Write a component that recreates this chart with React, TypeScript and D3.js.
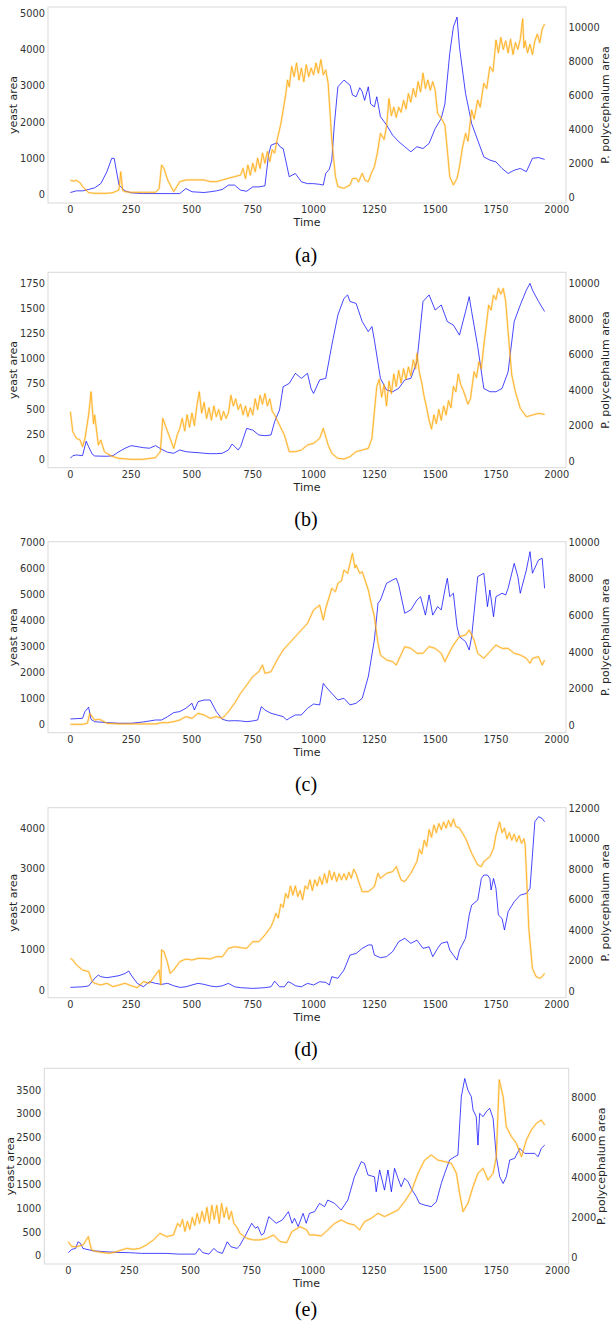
import React from 'react';
import * as d3 from 'd3';

type Pt = [number, number];

const timeTicks = [0, 250, 500, 750, 1000, 1250, 1500, 1750, 2000];

// (a)
const yeastTicksA = [0, 1000, 2000, 3000, 4000, 5000];
const physTicksA = [0, 2000, 4000, 6000, 8000, 10000];
const yeastA: Pt[] = [[0,55],[25,100],[50,100],[75,140],[100,185],[125,300],[150,625],[170,1000],[180,1000],[200,260],[225,100],[250,45],[300,25],[450,25],[475,165],[500,75],[525,65],[550,55],[575,75],[600,100],[625,140],[650,260],[675,260],[700,120],[725,90],[750,210],[775,210],[800,240],[815,1100],[825,1360],[850,1430],[865,1300],[875,1270],[900,490],[925,580],[950,350],[975,300],[1000,300],[1025,280],[1040,260],[1050,580],[1065,700],[1075,950],[1085,1900],[1100,2975],[1125,3160],[1150,3020],[1160,2750],[1175,2700],[1190,2950],[1200,2840],[1210,2600],[1225,2975],[1235,2500],[1250,2420],[1260,2700],[1275,2150],[1300,1920],[1325,1640],[1350,1460],[1375,1320],[1400,1180],[1425,1320],[1450,1270],[1475,1410],[1500,1820],[1525,2100],[1540,2500],[1560,3900],[1575,4630],[1590,4900],[1600,4070],[1625,2790],[1640,2300],[1650,1960],[1675,1500],[1700,1040],[1725,950],[1750,900],[1775,720],[1800,580],[1825,670],[1850,720],[1875,630],[1900,1000],[1925,1020],[1950,970]];
const physA: Pt[] = [[0,1000],[15,950],[25,1000],[40,850],[50,630],[75,275],[100,235],[150,235],[175,275],[200,430],[207,1500],[215,400],[225,330],[250,295],[350,295],[365,500],[375,1900],[385,1700],[400,1020],[425,330],[450,920],[475,1020],[500,1020],[525,1020],[550,1020],[575,920],[600,920],[625,1020],[650,1120],[675,1215],[700,1310],[710,1700],[720,1100],[730,1900],[740,1300],[750,2000],[760,1500],[770,2300],[780,1700],[790,2600],[800,2000],[810,2700],[820,2100],[830,2800],[840,2600],[850,3370],[865,4300],[875,5135],[885,6000],[893,6900],[900,6500],[910,7700],[920,7100],[930,7900],[940,6900],[950,7600],[960,6800],[970,7800],[980,7100],[990,7600],[1000,7200],[1010,7900],[1020,7300],[1030,8100],[1040,7200],[1050,7500],[1060,6700],[1075,3370],[1090,1215],[1100,630],[1125,530],[1150,725],[1160,1100],[1175,1120],[1185,900],[1200,1410],[1212,1000],[1225,920],[1240,1500],[1250,1800],[1262,2590],[1275,3760],[1290,3400],[1300,4150],[1310,5800],[1320,4800],[1330,5300],[1340,4700],[1350,5300],[1360,5000],[1370,5700],[1380,5200],[1390,6100],[1400,5600],[1410,6400],[1420,5900],[1430,6800],[1440,6200],[1450,7300],[1460,6400],[1470,6900],[1480,6300],[1490,6800],[1500,6300],[1510,4940],[1525,4650],[1540,4250],[1550,2780],[1560,1215],[1575,725],[1590,1120],[1600,1800],[1612,2900],[1625,3760],[1635,3300],[1650,5135],[1660,4600],[1675,5720],[1685,5300],[1700,6700],[1712,6400],[1725,7680],[1738,7400],[1750,9250],[1760,8500],[1770,9400],[1780,8700],[1790,9200],[1800,8500],[1810,9300],[1820,8400],[1830,9100],[1840,8700],[1850,9300],[1860,10500],[1865,8800],[1870,9200],[1880,8500],[1890,9000],[1900,8400],[1910,9200],[1920,9600],[1930,9100],[1940,9900],[1950,10200]];

// (b)
const yeastTicksB = [0, 250, 500, 750, 1000, 1250, 1500, 1750];
const physTicksB = [0, 2000, 4000, 6000, 8000, 10000];
const yeastB: Pt[] = [[0,10],[10,36],[25,43],[50,36],[65,180],[75,125],[90,50],[100,33],[150,30],[175,36],[200,76],[225,110],[250,136],[275,126],[300,116],[325,110],[350,136],[375,100],[400,70],[425,60],[450,93],[475,76],[500,70],[525,66],[550,60],[575,56],[600,56],[625,60],[650,93],[665,152],[690,93],[700,126],[725,308],[750,290],[775,242],[800,235],[825,242],[840,375],[860,490],[875,722],[900,755],[925,855],[950,805],[975,855],[990,700],[1000,655],[1025,790],[1050,805],[1075,1135],[1100,1435],[1125,1600],[1140,1635],[1150,1570],[1175,1550],[1200,1370],[1225,1270],[1240,1320],[1250,1186],[1275,805],[1300,690],[1325,672],[1350,705],[1375,790],[1400,805],[1425,970],[1450,1570],[1475,1635],[1500,1485],[1525,1535],[1550,1370],[1575,1335],[1600,1235],[1625,1470],[1640,1617],[1650,1470],[1675,1120],[1700,705],[1725,672],[1750,672],[1775,705],[1800,870],[1825,1370],[1850,1535],[1875,1683],[1890,1750],[1900,1683],[1925,1570],[1950,1470]];
const physB: Pt[] = [[0,2780],[10,1650],[25,1275],[40,1180],[50,807],[60,1275],[75,2590],[85,3900],[95,2100],[100,2590],[115,900],[125,1180],[140,525],[150,430],[175,245],[200,150],[250,95],[300,95],[350,190],[370,525],[380,2400],[400,1650],[425,710],[440,1500],[450,1840],[460,2400],[470,1700],[480,2600],[490,1900],[500,2700],[510,2000],[520,3100],[530,3900],[540,2700],[550,3300],[560,2400],[570,3000],[580,2300],[590,3100],[600,2500],[610,2900],[620,2300],[630,2800],[640,2400],[650,2700],[660,3700],[670,3100],[680,3500],[690,2900],[700,3200],[710,2600],[720,3100],[730,2500],[740,3000],[750,2600],[760,3500],[770,2900],[780,3700],[790,3200],[800,3800],[810,3100],[820,3500],[830,2800],[840,2600],[850,2300],[860,2025],[880,1465],[900,525],[925,525],[950,620],[975,900],[1000,995],[1025,1275],[1040,1840],[1060,900],[1075,430],[1100,150],[1125,112],[1150,245],[1175,525],[1200,620],[1225,710],[1240,1275],[1250,2780],[1260,4200],[1270,4600],[1280,3600],[1290,4300],[1300,3100],[1310,4500],[1320,3800],[1330,4900],[1340,4200],[1350,5100],[1360,4400],[1370,5200],[1380,4600],[1390,5300],[1400,4800],[1410,5700],[1420,5200],[1425,6060],[1435,5000],[1445,4400],[1455,3600],[1465,3000],[1475,2300],[1485,1800],[1495,2600],[1505,2100],[1515,2900],[1525,2300],[1535,3100],[1545,2600],[1555,3400],[1565,3000],[1575,4200],[1585,3900],[1595,4900],[1605,4300],[1615,4000],[1625,3600],[1635,3200],[1645,3500],[1660,5030],[1670,4700],[1680,5590],[1690,5200],[1700,6530],[1710,7600],[1720,8780],[1730,8500],[1740,9340],[1750,9100],[1760,9720],[1770,9400],[1780,9720],[1790,9000],[1800,7280],[1815,4840],[1830,3900],[1850,2965],[1875,2495],[1900,2590],[1925,2680],[1950,2625]];

// (c)
const yeastTicksC = [0, 1000, 2000, 3000, 4000, 5000, 6000, 7000];
const physTicksC = [0, 2000, 4000, 6000, 8000, 10000];
const yeastC: Pt[] = [[0,205],[50,230],[60,490],[75,655],[85,190],[100,100],[150,65],[200,40],[250,40],[300,90],[350,165],[375,165],[400,295],[425,450],[450,490],[475,615],[500,810],[510,550],[525,870],[550,935],[575,935],[600,490],[625,190],[650,130],[675,140],[700,130],[725,100],[750,130],[770,165],[785,680],[800,550],[825,425],[850,360],[875,295],[890,165],[900,230],[925,360],[950,360],[975,615],[1000,780],[1025,745],[1040,1575],[1050,1450],[1075,1190],[1100,935],[1125,1000],[1150,745],[1175,810],[1200,1000],[1225,1830],[1250,3245],[1265,4650],[1275,4780],[1300,5420],[1325,5550],[1340,5615],[1350,5360],[1375,4270],[1400,4400],[1425,4780],[1440,4910],[1460,4200],[1475,4975],[1490,4200],[1510,4525],[1525,4400],[1540,5165],[1550,5615],[1560,4910],[1575,5040],[1590,3755],[1600,3370],[1625,3180],[1640,2860],[1650,3370],[1675,5680],[1700,5810],[1715,4525],[1725,5165],[1740,4140],[1750,4910],[1775,5040],[1790,4975],[1800,5230],[1825,6190],[1840,5680],[1850,5040],[1875,5935],[1890,6640],[1900,5810],[1925,6320],[1940,6385],[1950,5230]];
const physC: Pt[] = [[0,55],[50,55],[70,110],[80,655],[100,290],[120,330],[150,110],[200,75],[350,75],[375,145],[400,145],[425,200],[450,290],[475,475],[500,380],[525,655],[550,565],[575,380],[600,475],[625,380],[650,745],[675,1200],[700,1750],[725,2200],[750,2660],[775,2930],[790,3295],[800,2840],[825,2930],[850,3570],[875,4115],[900,4480],[925,4845],[950,5210],[975,5570],[1000,6300],[1025,6570],[1040,5755],[1050,6390],[1075,7485],[1090,7300],[1100,7760],[1115,7900],[1125,8485],[1140,8300],[1150,8850],[1160,9395],[1170,8600],[1175,8760],[1190,8300],[1200,8395],[1225,7395],[1240,6480],[1250,5935],[1265,4480],[1275,3840],[1300,3570],[1325,3480],[1340,3295],[1375,4300],[1400,4205],[1425,3935],[1450,3935],[1475,4300],[1500,4205],[1525,3935],[1540,3480],[1560,4025],[1575,4390],[1600,4845],[1625,4935],[1640,5210],[1660,4660],[1675,3935],[1700,3660],[1725,4025],[1750,4390],[1775,4205],[1800,4205],[1825,3935],[1850,3840],[1875,3660],[1890,3385],[1900,3660],[1925,3750],[1940,3295],[1950,3570]];

// (d)
const yeastTicksD = [0, 1000, 2000, 3000, 4000];
const physTicksD = [0, 2000, 4000, 6000, 8000, 10000, 12000];
const yeastD: Pt[] = [[0,65],[50,80],[75,100],[100,290],[115,370],[125,330],[150,305],[175,330],[200,355],[225,410],[240,470],[250,370],[275,165],[300,80],[325,205],[350,165],[375,140],[400,165],[425,105],[450,65],[475,80],[500,125],[525,165],[550,140],[575,100],[600,80],[625,105],[650,165],[675,80],[700,58],[750,40],[800,58],[825,80],[840,220],[860,80],[880,80],[895,205],[910,165],[925,105],[950,80],[975,165],[1000,125],[1025,205],[1050,190],[1065,125],[1075,330],[1100,290],[1125,495],[1150,865],[1175,905],[1200,1030],[1225,1115],[1240,1115],[1250,865],[1275,800],[1300,825],[1325,950],[1350,1195],[1375,1280],[1400,1155],[1425,1235],[1450,1030],[1475,1070],[1490,825],[1510,1030],[1525,1155],[1550,1195],[1560,990],[1575,865],[1590,740],[1600,990],[1625,1280],[1640,1855],[1650,2100],[1675,2225],[1690,2760],[1700,2845],[1715,2845],[1725,2760],[1730,2475],[1740,2760],[1750,2515],[1760,1855],[1775,1770],[1785,1485],[1800,1940],[1825,2185],[1850,2350],[1875,2390],[1890,2515],[1900,3340],[1910,4165],[1925,4290],[1940,4245],[1950,4165]];
const physD: Pt[] = [[0,2145],[10,2035],[25,1710],[50,1380],[75,1270],[90,615],[100,505],[125,395],[150,505],[175,285],[200,395],[225,505],[250,350],[275,220],[300,615],[325,505],[350,1050],[365,1380],[372,400],[375,2695],[385,2585],[400,1820],[410,1160],[425,1380],[450,1930],[475,2100],[500,2035],[525,2145],[550,2145],[575,2100],[600,2255],[625,2255],[650,2800],[675,2910],[700,2850],[725,2800],[750,3240],[775,3240],[800,3680],[825,4225],[835,4600],[845,5100],[855,4800],[865,5700],[875,5500],[885,6400],[895,6100],[905,6900],[915,6300],[925,6900],[935,6200],[945,6600],[955,6000],[965,6900],[975,6700],[985,7300],[995,6600],[1005,7300],[1015,6900],[1025,7500],[1035,7000],[1045,7700],[1055,7100],[1065,7900],[1075,7300],[1085,7800],[1095,7200],[1105,7700],[1115,7300],[1125,7700],[1135,7300],[1145,7800],[1155,7400],[1165,8000],[1175,7700],[1190,6965],[1200,6525],[1225,6525],[1250,6855],[1265,7730],[1275,7400],[1300,7730],[1325,7840],[1340,8170],[1360,7290],[1375,7180],[1400,7730],[1425,8500],[1435,9300],[1445,9000],[1455,9900],[1465,9500],[1475,10600],[1485,10100],[1495,10900],[1505,10400],[1515,11000],[1525,10600],[1535,11100],[1545,10700],[1555,11200],[1565,10800],[1575,11300],[1585,10800],[1600,10700],[1625,10030],[1650,9045],[1675,8280],[1690,8170],[1700,8500],[1725,8825],[1740,9375],[1750,10250],[1765,11100],[1775,10400],[1785,10700],[1795,10000],[1805,10400],[1815,9900],[1825,10300],[1835,9800],[1845,10200],[1855,9700],[1865,10000],[1870,9600],[1875,7840],[1885,4115],[1900,1490],[1915,940],[1930,830],[1940,940],[1950,1160]];

// (e)
const yeastTicksE = [0, 500, 1000, 1500, 2000, 2500, 3000, 3500];
const physTicksE = [0, 2000, 4000, 6000, 8000];
const yeastE: Pt[] = [[0,70],[15,140],[30,160],[40,300],[50,265],[60,160],[100,110],[150,90],[200,75],[250,70],[300,55],[400,55],[450,40],[520,40],[535,160],[550,70],[575,40],[595,160],[610,90],[630,55],[650,300],[665,195],[690,160],[700,210],[725,440],[750,690],[765,585],[775,620],[790,440],[800,480],[820,830],[850,690],[875,760],[900,935],[915,690],[925,795],[940,620],[960,900],[973,690],[986,900],[1007,935],[1027,1110],[1048,1040],[1061,1180],[1089,1110],[1116,970],[1143,1180],[1170,1670],[1198,1990],[1211,1955],[1225,1710],[1252,1670],[1259,1355],[1273,1815],[1293,1390],[1307,1815],[1321,1355],[1334,1850],[1348,1640],[1361,1460],[1375,1640],[1389,1570],[1402,1425],[1423,1250],[1436,1110],[1457,1075],[1484,1040],[1505,1145],[1525,1530],[1539,1745],[1559,2025],[1580,2095],[1593,2130],[1607,3360],[1621,3745],[1634,3500],[1648,3360],[1655,3080],[1668,2940],[1675,2340],[1682,3010],[1696,2940],[1709,3045],[1723,3115],[1737,2900],[1750,2095],[1764,1670],[1778,1530],[1791,1670],[1805,2025],[1825,2060],[1846,2270],[1866,2165],[1887,2165],[1907,2165],[1921,2095],[1934,2270],[1948,2340]];
const physE: Pt[] = [[0,785],[14,535],[34,535],[61,620],[82,1035],[95,370],[116,285],[143,235],[170,200],[198,285],[239,450],[266,400],[293,450],[320,620],[348,870],[375,1200],[402,1035],[430,1120],[447,1700],[457,1535],[467,1900],[477,1300],[487,1800],[497,1400],[507,2000],[517,1600],[527,2200],[537,1700],[547,2300],[557,1800],[567,2500],[577,1700],[587,2600],[597,1900],[607,2600],[617,1700],[627,2700],[637,2000],[647,2500],[657,1900],[667,2300],[677,1700],[690,1500],[702,1200],[730,950],[757,870],[784,870],[812,950],[839,1120],[866,785],[893,735],[914,1285],[948,1535],[975,1370],[986,1120],[1007,1120],[1034,1070],[1061,1370],[1089,1700],[1116,1870],[1143,1700],[1170,1620],[1191,1370],[1211,1785],[1239,1955],[1266,2205],[1293,2040],[1321,2205],[1348,2370],[1375,2790],[1402,3290],[1430,4210],[1457,4875],[1484,5130],[1511,4875],[1539,4795],[1566,4710],[1587,4210],[1600,3205],[1614,2290],[1634,2705],[1655,3540],[1675,4210],[1696,4460],[1716,3875],[1737,4210],[1750,5040],[1762,8900],[1778,8050],[1791,6545],[1812,6045],[1832,5710],[1853,5040],[1873,5880],[1893,6380],[1914,6715],[1934,6880],[1948,6630]];

const panels = [
  { caption: '(a)', yeast: yeastA, phys: physA, yTicks: yeastTicksA, pTicks: physTicksA,
    left: 48, right: 566, top: 7, bottom: 203, xDom: [-92, 2038], yDom: [-235, 5180], pDom: [-335, 11194], capY: 262, yLabX: 16.7, pLabX: 609 },
  { caption: '(b)', yeast: yeastB, phys: physB, yTicks: yeastTicksB, pTicks: physTicksB,
    left: 48, right: 566, top: 272.3, bottom: 467.7, xDom: [-92, 2038], yDom: [-83.5, 1860], pDom: [-377, 10631], capY: 526, yLabX: 16.7, pLabX: 609 },
  { caption: '(c)', yeast: yeastC, phys: physC, yTicks: yeastTicksC, pTicks: physTicksC,
    left: 48, right: 566, top: 541.7, bottom: 732.7, xDom: [-92, 2038], yDom: [-323, 7023], pDom: [-404, 10033], capY: 791, yLabX: 16.7, pLabX: 609 },
  { caption: '(d)', yeast: yeastD, phys: physD, yTicks: yeastTicksD, pTicks: physTicksD,
    left: 48, right: 566, top: 807.7, bottom: 997.7, xDom: [-92, 2038], yDom: [-190, 4512], pDom: [-440, 12039], capY: 1056, yLabX: 16.7, pLabX: 609 },
  { caption: '(e)', yeast: yeastE, phys: physE, yTicks: yeastTicksE, pTicks: physTicksE,
    left: 44.3, right: 568.7, top: 1068.3, bottom: 1264, xDom: [-98, 2046], yDom: [-169, 3960], pDom: [-336, 9474], capY: 1316, yLabX: 14.2, pLabX: 604.5 },
];

const font = 'DejaVu Sans, sans-serif';
const tickColor = '#333';

function Panel({ p }: { p: typeof panels[number] }) {
  const x = d3.scaleLinear().domain(p.xDom).range([p.left, p.right]);
  const y = d3.scaleLinear().domain(p.yDom).range([p.bottom, p.top]);
  const yr = d3.scaleLinear().domain(p.pDom).range([p.bottom, p.top]);
  const blueLine = d3.line<Pt>().x(d => x(d[0])).y(d => y(d[1]));
  const orangeLine = d3.line<Pt>().x(d => x(d[0])).y(d => yr(d[1]));
  const midY = (p.top + p.bottom) / 2;
  const midX = (p.left + p.right) / 2;
  return (
    <g>
      <rect x={p.left} y={p.top} width={p.right - p.left} height={p.bottom - p.top}
        fill="white" stroke="#d9d9d9" strokeWidth={1} />
      <path d={blueLine(p.yeast) || ''} fill="none" stroke="blue" strokeOpacity={0.72} strokeWidth={1} />
      <path d={orangeLine(p.phys) || ''} fill="none" stroke="orange" strokeOpacity={0.25} strokeWidth={2.2} strokeLinejoin="round" />
      <path d={orangeLine(p.phys) || ''} fill="none" stroke="orange" strokeOpacity={0.85} strokeWidth={0.9} />
      {timeTicks.map(t => (
        <text key={'x' + t} x={x(t)} y={p.bottom + 10.3} textAnchor="middle" fontSize={9.8} fill={tickColor} fontFamily={font}>{t}</text>
      ))}
      {p.yTicks.map(v => (
        <text key={'y' + v} x={p.left - 3} y={y(v) + 3.5} textAnchor="end" fontSize={9.8} fill={tickColor} fontFamily={font}>{v}</text>
      ))}
      {p.pTicks.map(v => (
        <text key={'p' + v} x={p.right + 2.5} y={yr(v) + 3.5} textAnchor="start" fontSize={9.8} fill={tickColor} fontFamily={font}>{v}</text>
      ))}
      <text x={midX} y={p.bottom + 23} textAnchor="middle" fontSize={11} fill="#262626" fontFamily={font}>Time</text>
      <text transform={`translate(${p.yLabX},${midY}) rotate(-90)`} textAnchor="middle" fontSize={11} fill="#262626" fontFamily={font}>yeast area</text>
      <text transform={`translate(${p.pLabX},${midY}) rotate(-90)`} textAnchor="middle" fontSize={11} fill="#262626" fontFamily={font}>P. polycephalum area</text>
      <text x={306} y={p.capY} textAnchor="middle" fontSize={20} fill="#000" fontFamily="Liberation Serif, Times New Roman, serif">{p.caption}</text>
    </g>
  );
}

export default function App() {
  return (
    <svg width={612} height={1329} style={{ position: 'absolute', left: 0, top: 0, background: 'white' }}>
      <rect width={612} height={1329} fill="white" />
      {panels.map(p => <Panel key={p.caption} p={p} />)}
    </svg>
  );
}
